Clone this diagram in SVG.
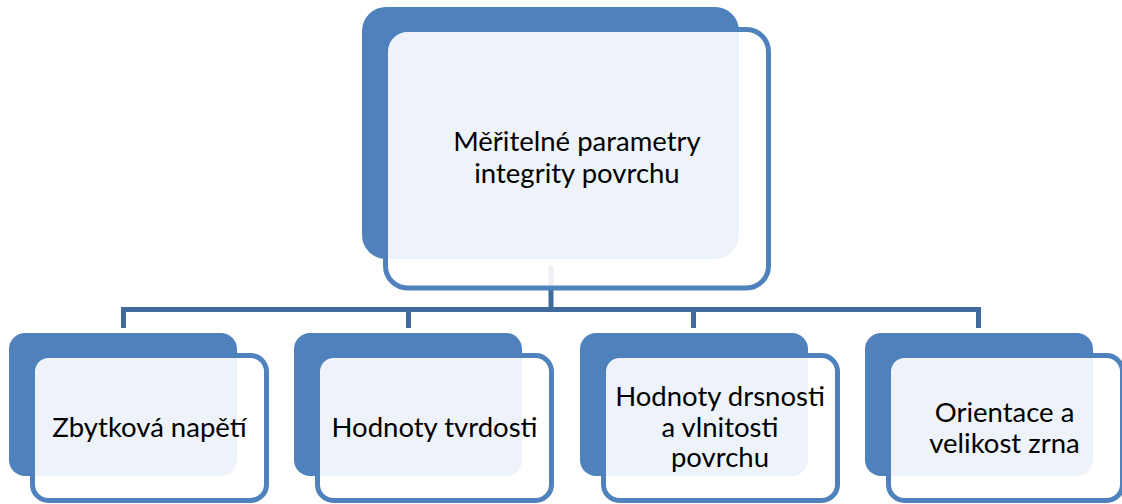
<svg xmlns="http://www.w3.org/2000/svg" width="1122" height="504" viewBox="0 0 1122 504">
<style>
.back{fill:#4F81BD;}
.front{fill:#FFFFFF;fill-opacity:0.9;stroke:#4F81BD;stroke-width:5;}
.conn{fill:none;stroke:#416A9C;stroke-width:5;stroke-linejoin:miter;}
.lbl{font-family:Lato,"Open Sans","Liberation Sans",sans-serif;font-size:27.5px;fill:#000;text-anchor:middle;}
</style>
<rect width="1122" height="504" fill="#FFFFFF"/>
<g id="connectors">
<path class="conn" d="M551 266 V309.5"/>
<path class="conn" d="M123.5 328 V309.5 H978.5 V328"/>
<path class="conn" d="M408.5 309.5 V328"/>
<path class="conn" d="M693.5 309.5 V328"/>
</g>
<g id="node-root">
<rect class="back" x="362" y="7" width="377" height="252" rx="24"/>
<rect class="front" x="385.5" y="29.5" width="383" height="258.5" rx="22"/>
<text class="lbl" x="577" y="151">Měřitelné parametry</text>
<text class="lbl" x="577" y="183">integrity povrchu</text>
</g>
<g id="node-1">
<rect class="back" x="9" y="333" width="228" height="143" rx="16"/>
<rect class="front" x="32.5" y="355.5" width="234" height="145" rx="16"/>
<text class="lbl" x="149.5" y="437">Zbytková napětí</text>
</g>
<g id="node-2">
<rect class="back" x="294" y="333" width="228" height="143" rx="16"/>
<rect class="front" x="317.5" y="355.5" width="234" height="145" rx="16"/>
<text class="lbl" x="434.5" y="437">Hodnoty tvrdosti</text>
</g>
<g id="node-3">
<rect class="back" x="580" y="333" width="228" height="143" rx="16"/>
<rect class="front" x="603.5" y="355.5" width="234" height="145" rx="16"/>
<text class="lbl" x="720" y="406">Hodnoty drsnosti</text>
<text class="lbl" x="720" y="437">a vlnitosti</text>
<text class="lbl" x="720" y="467">povrchu</text>
</g>
<g id="node-4">
<rect class="back" x="865" y="333" width="228" height="143" rx="16"/>
<rect class="front" x="888.5" y="355.5" width="234" height="145" rx="16"/>
<text class="lbl" x="1004.5" y="422">Orientace a</text>
<text class="lbl" x="1004.5" y="453">velikost zrna</text>
</g>
</svg>
